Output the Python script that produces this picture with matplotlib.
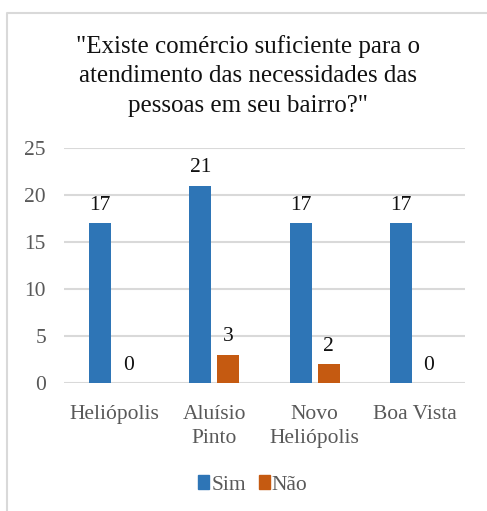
import numpy as np
import matplotlib
matplotlib.use("Agg")
from matplotlib import pyplot as plt
from matplotlib.lines import Line2D
from matplotlib.patches import Patch

# dados do gráfico
bairros = ["Heliópolis", "Aluísio\nPinto", "Novo\nHeliópolis", "Boa Vista"]
sim = [17, 21, 17, 17]
nao = [0, 3, 2, 0]
titulo = '"Existe comércio suficiente para o\natendimento das necessidades das\npessoas em seu bairro?"'

W, H = 487, 511
plt.rcParams['font.family'] = ['Liberation Serif', 'DejaVu Serif']

fig = plt.figure(figsize=(W / 100, H / 100), dpi=100)

# moldura do gráfico (só borda esquerda e superior visíveis)
fig.add_artist(Line2D([7 / W, 7 / W, 1], [0, 1 - 13 / H, 1 - 13 / H],
                      transform=fig.transFigure, color='#d9d9d9', lw=1.5))

# eixo em coordenadas de pixel
x0, x1, ytop, ybot = 64, 465, 148, 383
ax = fig.add_axes([x0 / W, 1 - ybot / H, (x1 - x0) / W, (ybot - ytop) / H])

x = np.arange(len(bairros))
w = 0.22
b1 = ax.bar(x - 0.14, sim, w, color='#2e75b6', label='Sim', zorder=3)
b2 = ax.bar(x + 0.14, nao, w, color='#c55a11', label='Não', zorder=3)
ax.bar_label(b1, padding=6, fontsize=15.5, color='#111111')
ax.bar_label(b2, padding=6, fontsize=15.5, color='#111111')

ax.set_xlim(-0.5, 3.5)
ax.set_ylim(0, 25)
ax.set_yticks(range(0, 26, 5))
ax.yaxis.grid(True, color='#d9d9d9', lw=1.5, zorder=0)
for s in ax.spines.values():
    s.set_visible(False)
ax.tick_params(axis='y', length=0, pad=13, labelsize=15.5, labelcolor='#595959')
ax.set_xticks(x)
ax.set_xticklabels(bairros, linespacing=1.35)
ax.tick_params(axis='x', length=0, pad=16, labelsize=15.5, labelcolor='#595959')

fig.text(248 / W, 1 - 76 / H, titulo, ha='center', va='center', fontsize=18,
         color='#111111', linespacing=1.45, multialignment='center')

fig.legend(handles=[Patch(color='#2e75b6', label='Sim'), Patch(color='#c55a11', label='Não')],
           loc='center', bbox_to_anchor=(253 / W, 1 - 485 / H), ncol=2, frameon=False,
           fontsize=15.5, labelcolor='#595959', handlelength=0.5, handleheight=0.6,
           handletextpad=0.1, columnspacing=0.6)

fig.savefig("out.png", dpi=100)
